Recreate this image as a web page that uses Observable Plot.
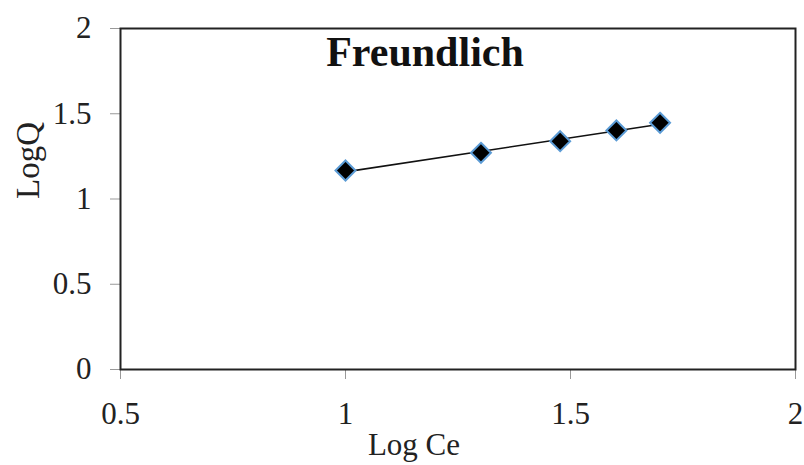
<!DOCTYPE html>
<html>
<head>
<meta charset="utf-8">
<script src="https://cdn.jsdelivr.net/npm/d3@7"></script>
<script src="https://cdn.jsdelivr.net/npm/@observablehq/plot@0.6"></script>
<style>
  html, body { margin: 0; padding: 0; background: white; }
  svg text { font-family: "Liberation Serif", "Times New Roman", serif !important; font-variant: normal !important; }
</style>
</head>
<body>
<div id="chart"></div>
<script>
const logCe = [1.0, 1.301, 1.477, 1.602, 1.699];
const logQ = [1.167, 1.271, 1.339, 1.402, 1.447];
const xTicks = [0.5, 1, 1.5, 2];
const yTicks = [0, 0.5, 1, 1.5, 2];
const title = "Freundlich";
const xLabel = "Log Ce";
const yLabel = "LogQ";

const data = logCe.map((x, i) => ({x, y: logQ[i]}));
const fmt = d => String(d);
const serif = "'Liberation Serif', 'Times New Roman', serif";

const chart = Plot.plot({
  width: 804,
  height: 465,
  marginLeft: 120,
  marginRight: 9,
  marginTop: 28,
  marginBottom: 96,
  style: {fontFamily: serif, fontSize: "30px", color: "#222", background: "white"},
  x: {domain: [0.5, 2]},
  y: {domain: [0, 2]},
  marks: [
    Plot.axisX({ticks: xTicks, tickFormat: fmt, tickSize: 10, tickPadding: 22, label: null, stroke: "#999", fill: "#222", fontFamily: serif, fontSize: 31}),
    Plot.axisY({ticks: yTicks, tickFormat: fmt, tickSize: 10, tickPadding: 19, label: null, stroke: "#999", fill: "#222", fontFamily: serif, fontSize: 31}),
    Plot.frame({stroke: "#222", strokeWidth: 2}),
    Plot.linearRegressionY(data, {x: "x", y: "y", ci: 0, stroke: "#111", strokeWidth: 1.6}),
    Plot.dot(data, {x: "x", y: "y", symbol: "diamond2", r: 9, fill: "black", stroke: "#5b9bd5", strokeWidth: 2}),
    Plot.text([title], {frameAnchor: "top", lineAnchor: "middle", dx: -33, dy: 24, fontWeight: "bold", fontSize: 42, fill: "#111"}),
    Plot.text([xLabel], {frameAnchor: "bottom", lineAnchor: "middle", dx: -44, dy: 76, fontSize: 31, fill: "#222"}),
    Plot.text([yLabel], {frameAnchor: "left", lineAnchor: "middle", dx: -92, dy: 0, rotate: -90, fontSize: 33, fill: "#222"})
  ]
});
document.getElementById("chart").appendChild(chart);
</script>
</body>
</html>
